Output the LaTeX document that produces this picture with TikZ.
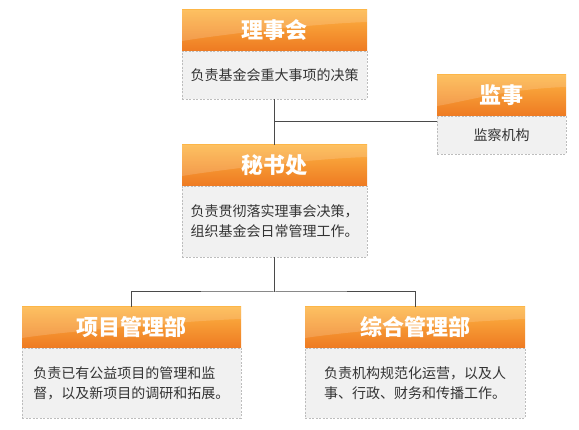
\documentclass[tikz,border=0pt]{standalone}
\usepackage{fontspec}
\newfontfamily\cjk{Noto Sans CJK SC}
\usetikzlibrary{calc}
\definecolor{hdtop}{HTML}{FDB443}
\definecolor{hdbot}{HTML}{EE7A22}
\definecolor{bodyfill}{HTML}{F1F1F1}
\definecolor{bodyline}{HTML}{BDBDBD}
\definecolor{txt}{HTML}{333333}
\definecolor{connc}{HTML}{4A4A4A}
\begin{document}
\begin{tikzpicture}[x=1pt,y=-1pt,
  head/.style={rectangle, inner sep=0pt, outer sep=0pt, minimum height=41pt,
    top color=hdtop, bottom color=hdbot, anchor=north west,
    font=\cjk\bfseries\fontsize{22}{24}\selectfont, text=white,
    path picture={\fill[white,opacity=0.16]
      (path picture bounding box.north west) -- (path picture bounding box.north east)
      -- ([yshift=-12pt]path picture bounding box.north east)
      .. controls ([xshift=-60pt,yshift=-14pt]path picture bounding box.north east)
      and ([xshift=30pt,yshift=-26pt]path picture bounding box.north west)
      .. ([yshift=-31pt]path picture bounding box.north west) -- cycle;}},
  body/.style={rectangle, inner sep=0pt, outer sep=0pt, fill=bodyfill,
    draw=bodyline, line width=0.7pt, dash pattern=on 2pt off 1.5pt, anchor=north west,
    font=\cjk\fontsize{14}{20}\selectfont, text=txt, align=left},
  conn/.style={draw=connc, line width=1pt}]
\useasboundingbox (0,0) rectangle (579,430);
\fill[white] (0,0) rectangle (579,430);

% 理事会
\node[head, minimum width=185pt] (lsh-h) at (182,10) {理事会};
\node[body, minimum width=185pt, minimum height=48pt] (lsh-b) at (182,51) {负责基金会重大事项的决策};

% 监事
\node[head, minimum width=129pt] (js-h) at (437,75) {监事};
\node[body, minimum width=129pt, minimum height=38pt] (js-b) at (437,116) {监察机构};

% 秘书处
\node[head, minimum width=185pt] (msc-h) at (182,145) {秘书处};
\node[body, minimum width=185pt, minimum height=71pt] (msc-b) at (182,186) {负责贯彻落实理事会决策，\\组织基金会日常管理工作。};

% 项目管理部
\node[head, minimum width=219pt] (xm-h) at (22,307) {项目管理部};
\node[body, minimum width=219pt, minimum height=70pt] (xm-b) at (22,348) {负责已有公益项目的管理和监\\督，以及新项目的调研和拓展。};

% 综合管理部
\node[head, minimum width=220pt] (zh-h) at (305,307) {综合管理部};
\node[body, minimum width=220pt, minimum height=70pt] (zh-b) at (305,348) {负责机构规范化运营，以及人\\事、行政、财务和传播工作。};

% connectors
\draw[conn] (lsh-b.south) -- (msc-h.north);
\coordinate (j1) at ($(lsh-b.south)!0.5!(msc-h.north)$);
\draw[conn] (j1) -- (j1 -| js-b.west);
\coordinate (j2) at ($(msc-b.south)+(0,35)$);
\draw[conn] (msc-b.south) -- (j2);
\draw[conn] (xm-h.north) |- (j2) -| (zh-h.north);
\end{tikzpicture}
\end{document}
